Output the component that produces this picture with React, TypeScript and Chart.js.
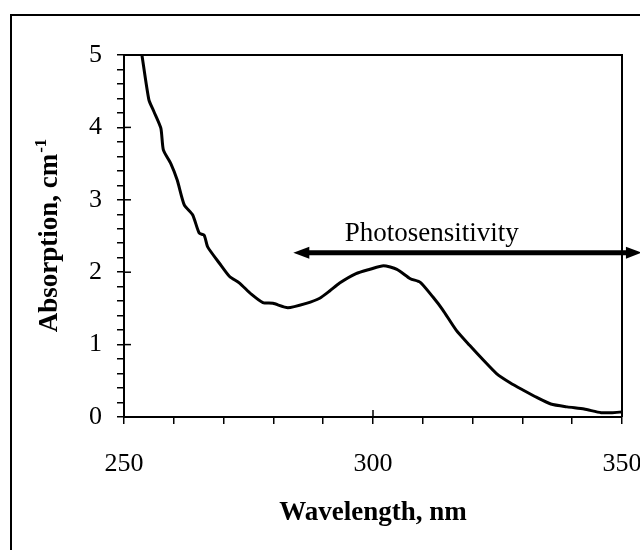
import React, { useEffect, useRef } from 'react';
import { Chart, registerables } from 'chart.js';

Chart.register(...registerables);

// ---- data ----
const wavelengths = [
  253.6, 255.0, 256.0, 257.4, 257.9, 259.4, 260.7, 262.1, 263.8, 265.1,
  266.1, 266.8, 269.2, 271.2, 273.2, 275.5, 277.9, 279.9, 282.9, 286.6,
  289.3, 291.3, 293.3, 296.6, 299.4, 302.1, 304.8, 307.5, 309.5, 312.0,
  314.0, 316.7, 319.4, 322.1, 324.8, 327.6, 330.2, 332.9, 335.7, 339.0,
  342.4, 345.8, 348.0, 350.0,
];
const absorption = [
  5.0, 4.38, 4.22, 3.99, 3.69, 3.5, 3.27, 2.93, 2.79, 2.54,
  2.51, 2.35, 2.12, 1.94, 1.85, 1.7, 1.58, 1.57, 1.51, 1.57,
  1.64, 1.74, 1.85, 1.98, 2.04, 2.09, 2.04, 1.91, 1.86, 1.66,
  1.48, 1.2, 0.99, 0.79, 0.6, 0.47, 0.37, 0.27, 0.18, 0.14,
  0.11, 0.06, 0.06, 0.07,
];
const xTickLabels = [250, 300, 350];
const yTickLabels = [0, 1, 2, 3, 4, 5];
const xTitle = 'Wavelength, nm';
const yTitle = 'Absorption, cm';
const yTitleSup = '-1';
const arrowLabel = 'Photosensitivity';
const arrowFrom = 284;
const arrowTo = 354;
const arrowLevel = 2.27;
const arrowLabelCenter = 311.8;

const SERIF = '"Liberation Serif", "Times New Roman", serif';

const decorPlugin = {
  id: 'decor',
  afterDraw(chart: any) {
    const { ctx, chartArea, scales } = chart;
    const xs = scales.x;
    const ys = scales.y;
    ctx.save();
    ctx.strokeStyle = '#000';
    ctx.fillStyle = '#000';

    // outer frame (left + top)
    ctx.lineWidth = 2;
    ctx.beginPath();
    ctx.moveTo(11, 550);
    ctx.lineTo(11, 15);
    ctx.lineTo(640, 15);
    ctx.stroke();

    // plot box top + right
    ctx.lineWidth = 2;
    ctx.beginPath();
    ctx.moveTo(chartArea.left, chartArea.top);
    ctx.lineTo(chartArea.right, chartArea.top);
    ctx.lineTo(chartArea.right, chartArea.bottom);
    ctx.stroke();

    // inner halves of major ticks
    ctx.lineWidth = 1.5;
    yTickLabels.forEach((v) => {
      const y = ys.getPixelForValue(v);
      ctx.beginPath();
      ctx.moveTo(chartArea.left, y);
      ctx.lineTo(chartArea.left + 7, y);
      ctx.stroke();
    });
    xTickLabels.forEach((v) => {
      const x = xs.getPixelForValue(v);
      ctx.beginPath();
      ctx.moveTo(x, chartArea.bottom);
      ctx.lineTo(x, chartArea.bottom - 7);
      ctx.stroke();
    });

    // arrow
    const ay = ys.getPixelForValue(arrowLevel);
    const ax1 = xs.getPixelForValue(arrowFrom);
    const ax2 = xs.getPixelForValue(arrowTo);
    const head = 16;
    const half = 6;
    ctx.lineWidth = 5;
    ctx.beginPath();
    ctx.moveTo(ax1 + head - 2, ay);
    ctx.lineTo(ax2 - head + 2, ay);
    ctx.stroke();
    ctx.beginPath();
    ctx.moveTo(ax1, ay);
    ctx.lineTo(ax1 + head, ay - half);
    ctx.lineTo(ax1 + head, ay + half);
    ctx.closePath();
    ctx.fill();
    ctx.beginPath();
    ctx.moveTo(ax2, ay);
    ctx.lineTo(ax2 - head, ay - half);
    ctx.lineTo(ax2 - head, ay + half);
    ctx.closePath();
    ctx.fill();

    // arrow label
    ctx.font = `27px ${SERIF}`;
    ctx.textAlign = 'center';
    ctx.textBaseline = 'alphabetic';
    ctx.fillText(arrowLabel, xs.getPixelForValue(arrowLabelCenter), ay - 12);

    // x title
    ctx.font = `bold 27px ${SERIF}`;
    ctx.textAlign = 'center';
    ctx.textBaseline = 'middle';
    ctx.fillText(xTitle, (chartArea.left + chartArea.right) / 2, 513);

    // y title (rotated) with superscript
    const cy = (chartArea.top + chartArea.bottom) / 2;
    ctx.translate(57, cy);
    ctx.rotate(-Math.PI / 2);
    ctx.font = `bold 27px ${SERIF}`;
    const w1 = ctx.measureText(yTitle).width;
    ctx.font = `bold 17px ${SERIF}`;
    const w2 = ctx.measureText(yTitleSup).width;
    const total = w1 + w2;
    ctx.textAlign = 'left';
    ctx.textBaseline = 'alphabetic';
    ctx.font = `bold 27px ${SERIF}`;
    ctx.fillText(yTitle, -total / 2, 0);
    ctx.font = `bold 17px ${SERIF}`;
    ctx.fillText(yTitleSup, -total / 2 + w1 + 1, -11);

    ctx.restore();
  },
};

export default function App() {
  const ref = useRef<HTMLCanvasElement | null>(null);

  useEffect(() => {
    if (!ref.current) return;
    Chart.defaults.font.family = SERIF;
    const points = wavelengths.map((x, i) => ({ x, y: absorption[i] }));
    const chart = new Chart(ref.current, {
      type: 'line',
      data: {
        datasets: [
          {
            data: points,
            borderColor: '#000',
            borderWidth: 3,
            pointRadius: 0,
            tension: 0.2,
            fill: false,
          },
        ],
      },
      options: {
        responsive: false,
        animation: false,
        layout: { padding: { top: 55, right: 18, left: 0, bottom: 0 } },
        plugins: {
          legend: { display: false },
          tooltip: { enabled: false },
          title: { display: false },
        },
        scales: {
          x: {
            type: 'linear',
            min: 250,
            max: 350,
            afterFit: (s: any) => {
              s.height = 133;
              s.paddingLeft = 0;
              s.paddingRight = 0;
            },
            ticks: {
              stepSize: 10,
              autoSkip: false,
              maxRotation: 0,
              color: '#000',
              padding: 25,
              font: { family: SERIF, size: 26 },
              callback: (v: any) => (xTickLabels.includes(Math.round(v)) && Math.abs(v - Math.round(v)) < 1e-6 ? String(Math.round(v)) : ''),
            },
            grid: { drawOnChartArea: false, tickLength: 7, color: '#000', lineWidth: 1.5 },
            border: { color: '#000', width: 2 },
          },
          y: {
            type: 'linear',
            min: 0,
            max: 5,
            afterFit: (s: any) => {
              s.width = 124;
            },
            ticks: {
              stepSize: 0.2,
              autoSkip: false,
              maxTicksLimit: 100,
              color: '#000',
              padding: 15,
              font: { family: SERIF, size: 26 },
              callback: (v: any) => {
                const r = Math.round(v);
                return Math.abs(v - r) < 1e-6 && yTickLabels.includes(r) ? String(r) : '';
              },
            },
            grid: { drawOnChartArea: false, tickLength: 7, color: '#000', lineWidth: 1.5 },
            border: { color: '#000', width: 2 },
          },
        },
      },
      plugins: [decorPlugin],
    });
    return () => chart.destroy();
  }, []);

  return (
    <div style={{ position: 'absolute', left: 0, top: 0, width: 640, height: 550, background: '#fff' }}>
      <canvas ref={ref} width={640} height={550} />
    </div>
  );
}
